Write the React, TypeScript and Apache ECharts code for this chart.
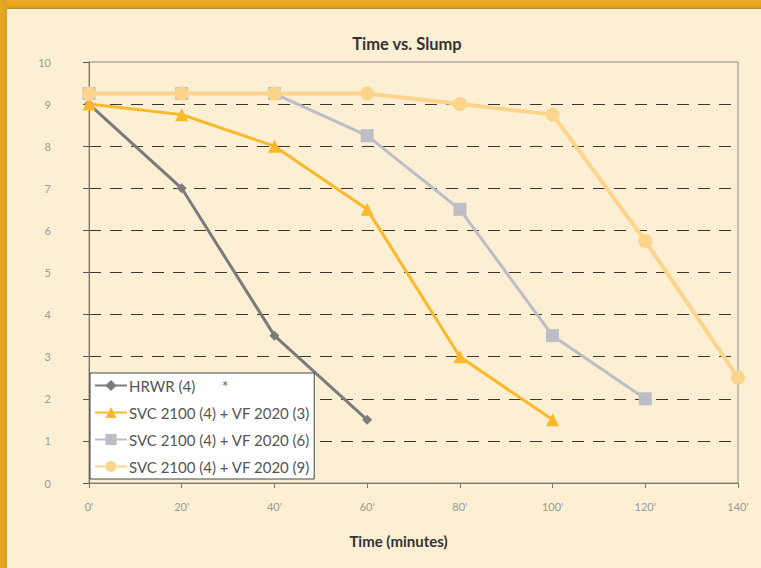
import React, { useEffect, useRef } from "react";
import * as echarts from "echarts";

const times = [0, 20, 40, 60, 80, 100, 120, 140];
const seriesNames = [
  "HRWR (4)",
  "SVC 2100 (4) + VF 2020 (3)",
  "SVC 2100 (4) + VF 2020 (6)",
  "SVC 2100 (4) + VF 2020 (9)",
];
const hrwr = [9, 7, 3.5, 1.5];
const svc3 = [9, 8.75, 8, 6.5, 3, 1.5];
const svc6 = [9.25, 9.25, 9.25, 8.25, 6.5, 3.5, 2];
const svc9 = [9.25, 9.25, 9.25, 9.25, 9, 8.75, 5.75, 2.5];
const yTicks = [0, 1, 2, 3, 4, 5, 6, 7, 8, 9, 10];

const colors = ["#7b7b7b", "#fbb829", "#bdbdc6", "#fdd48b"];
const symbols = ["diamond", "triangle", "rect", "circle"];
const symbolSizes = [10, 13, 13, 14];
const lineWidths = [3, 3, 3, 4];

const pair = (vals: number[]) => vals.map((v, i) => [times[i], v]);

export default function App() {
  const ref = useRef<HTMLDivElement>(null);
  useEffect(() => {
    document.body.style.margin = "0";
    const chart = echarts.init(ref.current!, null, { renderer: "svg" });
    const data = [hrwr, svc3, svc6, svc9];
    chart.setOption({
      animation: false,
      backgroundColor: "#fdefd4",
      textStyle: { fontFamily: "Lato, 'Open Sans', sans-serif" },
      title: {
        text: "Time vs. Slump",
        left: 402,
        textAlign: "center",
        top: 30,
        textStyle: { fontSize: 16.5, fontWeight: "bold", color: "#333" },
      },
      graphic: [
        {
          type: "rect",
          shape: { x: 0, y: 0, width: 761, height: 9 },
          style: {
            fill: new echarts.graphic.LinearGradient(0, 0, 0, 1, [
              { offset: 0, color: "#eeae24" },
              { offset: 0.7, color: "#e3a322" },
              { offset: 1, color: "#b98a2c" },
            ]),
          },
          z: 10,
        },
        {
          type: "rect",
          shape: { x: 0, y: 0, width: 7, height: 568 },
          style: {
            fill: new echarts.graphic.LinearGradient(0, 0, 1, 0, [
              { offset: 0, color: "#e9a923" },
              { offset: 1, color: "#d99f2a" },
            ]),
          },
          z: 10,
        },
      ],
      grid: {
        left: 89,
        right: 23,
        top: 62,
        bottom: 85,
        show: true,
        borderColor: "#8c8a86",
        borderWidth: 1,
        backgroundColor: "transparent",
      },
      legend: {
        orient: "vertical",
        left: 90,
        top: 373,
        padding: [5, 4, 5, 4],
        itemWidth: 32,
        itemHeight: 14,
        itemGap: 12,
        backgroundColor: "#ffffff",
        borderColor: "#444",
        borderWidth: 1,
        data: seriesNames,
        formatter: (name: string) => (name === seriesNames[0] ? name + "       *" : name),
        textStyle: { fontSize: 15, color: "#555", padding: [0, 0, 0, -3] },
      },
      xAxis: {
        type: "value",
        min: 0,
        max: 140,
        interval: 20,
        name: "Time (minutes)",
        nameLocation: "middle",
        nameGap: 50,
        nameTextStyle: { fontSize: 15, fontWeight: "bold", color: "#333", padding: [0, 30, 0, 0] },
        axisLine: { show: true, lineStyle: { color: "#777", width: 1 } },
        axisTick: { show: true, length: 5, lineStyle: { color: "#777" } },
        axisLabel: {
          formatter: (v: number) => `${v}'`,
          color: "#999",
          fontSize: 11,
          margin: 18,
        },
        splitLine: { show: false },
      },
      yAxis: {
        type: "value",
        min: yTicks[0],
        max: yTicks[yTicks.length - 1],
        interval: 1,
        axisLine: { show: true, lineStyle: { color: "#777", width: 1 } },
        axisTick: { show: true, length: 6, lineStyle: { color: "#555" } },
        axisLabel: { color: "#999", fontSize: 11, margin: 38 },
        splitLine: {
          show: true,
          showMinLine: false,
          showMaxLine: false,
          lineStyle: { color: "#3a3630", type: [12, 9], width: 1 },
        },
      },
      series: data.map((vals, i) => ({
        name: seriesNames[i],
        type: "line",
        data: pair(vals),
        symbol: symbols[i],
        symbolSize: symbolSizes[i],
        lineStyle: { color: colors[i], width: lineWidths[i] },
        itemStyle: { color: colors[i] },
        z: 2 + i,
      })),
    });
    return () => chart.dispose();
  }, []);
  return <div ref={ref} style={{ width: 761, height: 568 }} />;
}
